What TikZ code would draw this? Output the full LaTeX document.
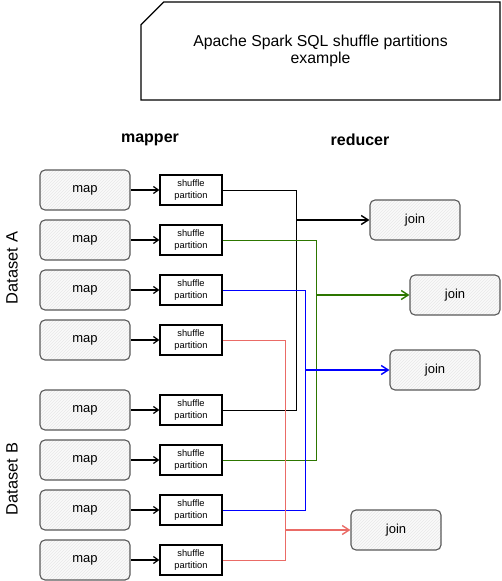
\documentclass[tikz,border=0pt]{standalone}
\usepackage{fontspec}
\setmainfont{Liberation Sans}
\usetikzlibrary{positioning, arrows.meta, shapes.misc, patterns}

\definecolor{grn}{HTML}{2D7600}
\definecolor{blu}{HTML}{0000FF}
\definecolor{rd}{HTML}{EA6B66}

\tikzset{
    mapbox/.style={draw=black!65, line width=1.1pt, rounded corners=5pt, minimum width=90pt, minimum height=40pt,
        preaction={fill=gray!4}, pattern={north east lines}, pattern color=gray!18, font=\fontsize{13}{15}\selectfont},
    joinbox/.style={mapbox},
    spbox/.style={draw, line width=1.2pt, minimum width=62pt, minimum height=30pt, align=center,
        inner sep=1pt, font=\fontsize{9.3}{12}\selectfont},
    feed/.style={line width=1.2pt, -{Straight Barb[length=5pt,width=7pt]}},
    wire/.style={line width=0.9pt},
    toj/.style={line width=1.4pt, -{Straight Barb[length=7pt,width=9pt]}}
}

\begin{document}
\begin{tikzpicture}[x=1pt, y=-1pt]
        \useasboundingbox (0,0) rectangle (501,581);

        \node[draw, line width=1.2pt, chamfered rectangle, chamfered rectangle corners=north west,
            chamfered rectangle xsep=24pt, minimum width=359pt, minimum height=98pt,
            align=center, font=\fontsize{15.8}{17}\selectfont] (title) at (320.5,51)
            {Apache Spark SQL shuffle partitions\\example}; % title
        \node[font=\bfseries\fontsize{16}{19}\selectfont] (mapper) at (150,140) {mapper}; % mapper
        \node[font=\bfseries\fontsize{16}{19}\selectfont] (reducer) at (360,140) {reducer}; % reducer
        \node[rotate=90, font=\fontsize{16.4}{19}\selectfont] (dsa) at (12,268) {Dataset A}; % a
        \node[rotate=90, font=\fontsize{16.4}{19}\selectfont] (dsb) at (12,479) {Dataset B}; % b

        \foreach \i/\y in {1/190, 2/240, 3/290, 4/340, 5/410, 6/460, 7/510, 8/560} {
            \node[mapbox] (m\i) at (85,\y) {map};
            \node[spbox] (s\i) at (191,\y) {shuffle\\partition};
            \draw[feed] (m\i) -- (s\i);
        }

        \node[joinbox] (j1) at (415,220) {join}; % black
        \node[joinbox] (j2) at (455,295) {join}; % green
        \node[joinbox] (j3) at (435,370) {join}; % blue
        \node[joinbox] (j4) at (396,530) {join}; % red

        \coordinate (k1) at (296,220);
        \coordinate (k2) at (316,295);
        \coordinate (k3) at (305,370);
        \coordinate (k4) at (285,530);

        \draw[wire] (s1.east) -| (k1) (s5.east) -| (k1);
        \draw[wire, grn] (s2.east) -| (k2) (s6.east) -| (k2);
        \draw[wire, blu] (s3.east) -| (k3) (s7.east) -| (k3);
        \draw[wire, rd] (s4.east) -| (k4) (s8.east) -| (k4);

        \draw[toj] (k1) -- (j1);
        \draw[toj, grn] (k2) -- (j2);
        \draw[toj, blu] (k3) -- (j3);
        \draw[toj, rd] (k4) -- (j4);
    \end{tikzpicture}
\end{document}
